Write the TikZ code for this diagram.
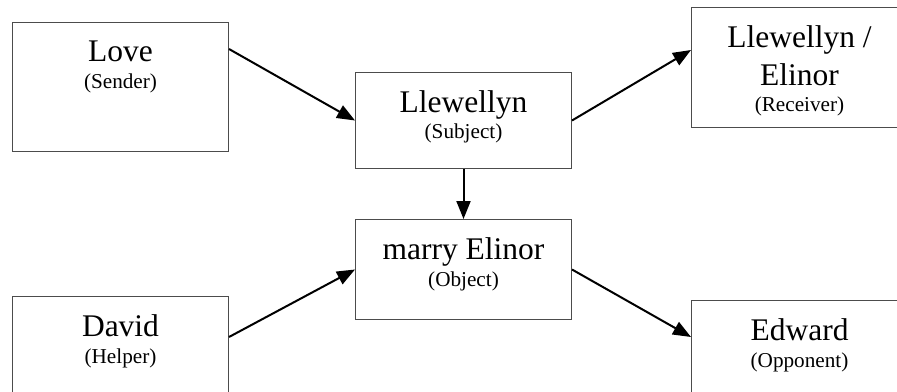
\documentclass[tikz,border=0pt]{standalone}
\usepackage{fontspec}
\setmainfont{Liberation Serif}
\usetikzlibrary{positioning,arrows.meta}
\newcommand{\rolename}[1]{{\fontsize{10.6}{13}\selectfont #1}}
\begin{document}
\begin{tikzpicture}[x=0.5pt, y=-0.5pt,
        actant/.style={draw=black!70, line width=0.5pt, anchor=north west, minimum width=108pt, inner sep=0pt},
        role/.style={align=center, inner sep=0pt, font=\fontsize{15.75}{19.25}\selectfont},
        link/.style={-{Triangle[length=9pt,width=7pt]}, line width=1pt}]
        \useasboundingbox (0, 0) rectangle (897, 391);
        \clip (0, 0) rectangle (897, 391);
        \node[actant, minimum height=64.5pt] at(12, 22) (sender) {};
        \node[actant, minimum height=48pt] at(355, 72) (subject) {};
        \node[actant, minimum height=60pt] at(691, 7) (receiver) {};
        \node[actant, minimum height=50pt] at(355, 219) (object) {};
        \node[actant, minimum height=64.5pt] at(12, 296) (helper) {};
        \node[actant, minimum height=64.5pt] at(691, 300) (opponent) {};
        \node[role, below=9pt of sender.north] (sendertxt) {Love\\[-5.75pt]\rolename{(Sender)}};
        \node[role, below=9pt of subject.north] (subjecttxt) {Llewellyn\\[-6.25pt]\rolename{(Subject)}};
        \node[role, below=9pt of receiver.north] (receivertxt) {Llewellyn /\\Elinor\\[-6.25pt]\rolename{(Receiver)}};
        \node[role, below=9pt of object.north] (objecttxt) {marry Elinor\\[-5.75pt]\rolename{(Object)}};
        \node[role, below=9pt of helper.north] (helpertxt) {David\\[-5.75pt]\rolename{(Helper)}};
        \node[role, below=9pt of opponent.north] (opponenttxt) {Edward\\[-5.75pt]\rolename{(Opponent)}};
        \draw[link] ([yshift=-13.5pt]sender.north east) -- (subject.west);
        \draw[link] (subject.east) -- ([yshift=-21.5pt]receiver.north west);
        \draw[link] (subject.south) -- (object.north);
        \draw[link] ([yshift=-20.5pt]helper.north east) -- (object.west);
        \draw[link] (object.east) -- ([yshift=-18.5pt]opponent.north west);
    \end{tikzpicture}
\end{document}
